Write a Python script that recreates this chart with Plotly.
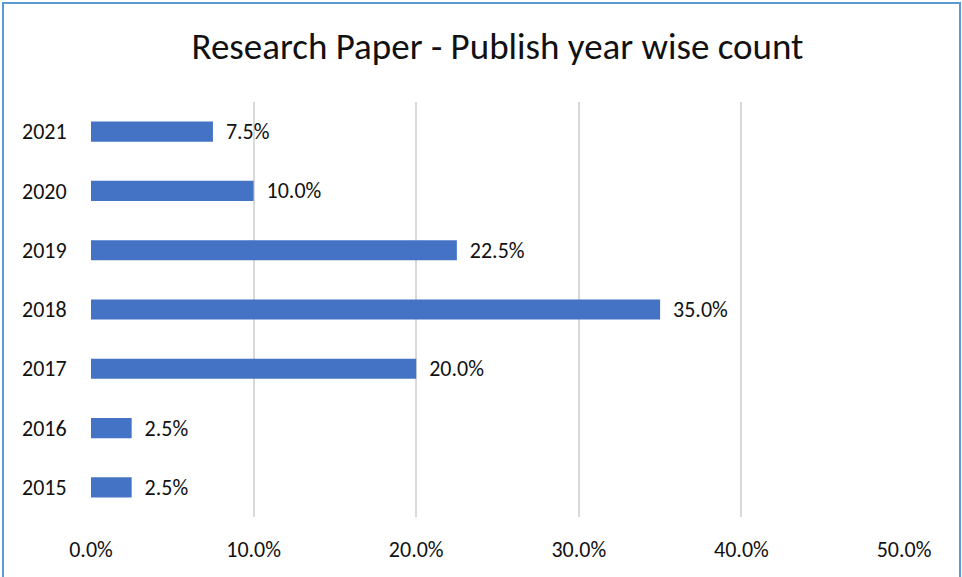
import plotly.graph_objects as go

years = ["2015", "2016", "2017", "2018", "2019", "2020", "2021"]
shares = [0.025, 0.025, 0.20, 0.35, 0.225, 0.10, 0.075]
x_ticks = [0, 0.1, 0.2, 0.3, 0.4, 0.5]
x_tick_labels = ["0.0%", "10.0%", "20.0%", "30.0%", "40.0%", "50.0%"]
title_text = "Research Paper - Publish year wise count"

FONT = "Carlito, Calibri, Lato, sans-serif"
TXT = "#111111"

fig = go.Figure(go.Bar(
    y=years, x=shares, orientation="h",
    marker=dict(color="#4472C4", line=dict(width=0)),
    text=[f"  {v*100:.1f}%" for v in shares],
    textposition="outside",
    constraintext="none",
    textfont=dict(family=FONT, size=22, color=TXT),
    cliponaxis=False,
))

W, H = 962, 577
L, R, T, B = 91, 58, 102, 60
pw, ph = W - L - R, H - T - B

def px_x(p):
    return (p - L) / pw

def px_y(p):
    return (H - B - p) / ph

fig.update_layout(
    width=W, height=H,
    margin=dict(l=L, r=R, t=T, b=B, autoexpand=False),
    paper_bgcolor="white", plot_bgcolor="white",
    title=dict(text=title_text, x=0.5, xanchor="center", xref="paper",
               y=1 - 46 / H, yanchor="middle", yref="container",
               font=dict(family=FONT, size=37, color=TXT)),
    bargap=0.66,
    showlegend=False,
    uniformtext=dict(mode=False),
    xaxis=dict(range=[0, 0.5], tickvals=x_ticks, ticktext=x_tick_labels,
               showgrid=True, gridcolor="#D9D9D9", gridwidth=2,
               zeroline=False, showline=False,
               ticks="outside", ticklen=13, tickcolor="rgba(0,0,0,0)",
               tickfont=dict(family=FONT, size=22, color=TXT)),
    yaxis=dict(showgrid=False, zeroline=False, showline=False,
               ticks="outside", ticklen=19, tickcolor="rgba(0,0,0,0)",
               tickfont=dict(family=FONT, size=22, color=TXT)),
    shapes=[dict(type="rect", xref="paper", yref="paper",
                 x0=px_x(3), x1=px_x(960), y0=px_y(582), y1=px_y(3),
                 line=dict(color="#5B9BD5", width=2), layer="below")],
)

fig.write_html(
    "out.html",
    config={"displayModeBar": False},
    post_script="document.body.style.margin='0';document.body.style.overflow='hidden';",
)
